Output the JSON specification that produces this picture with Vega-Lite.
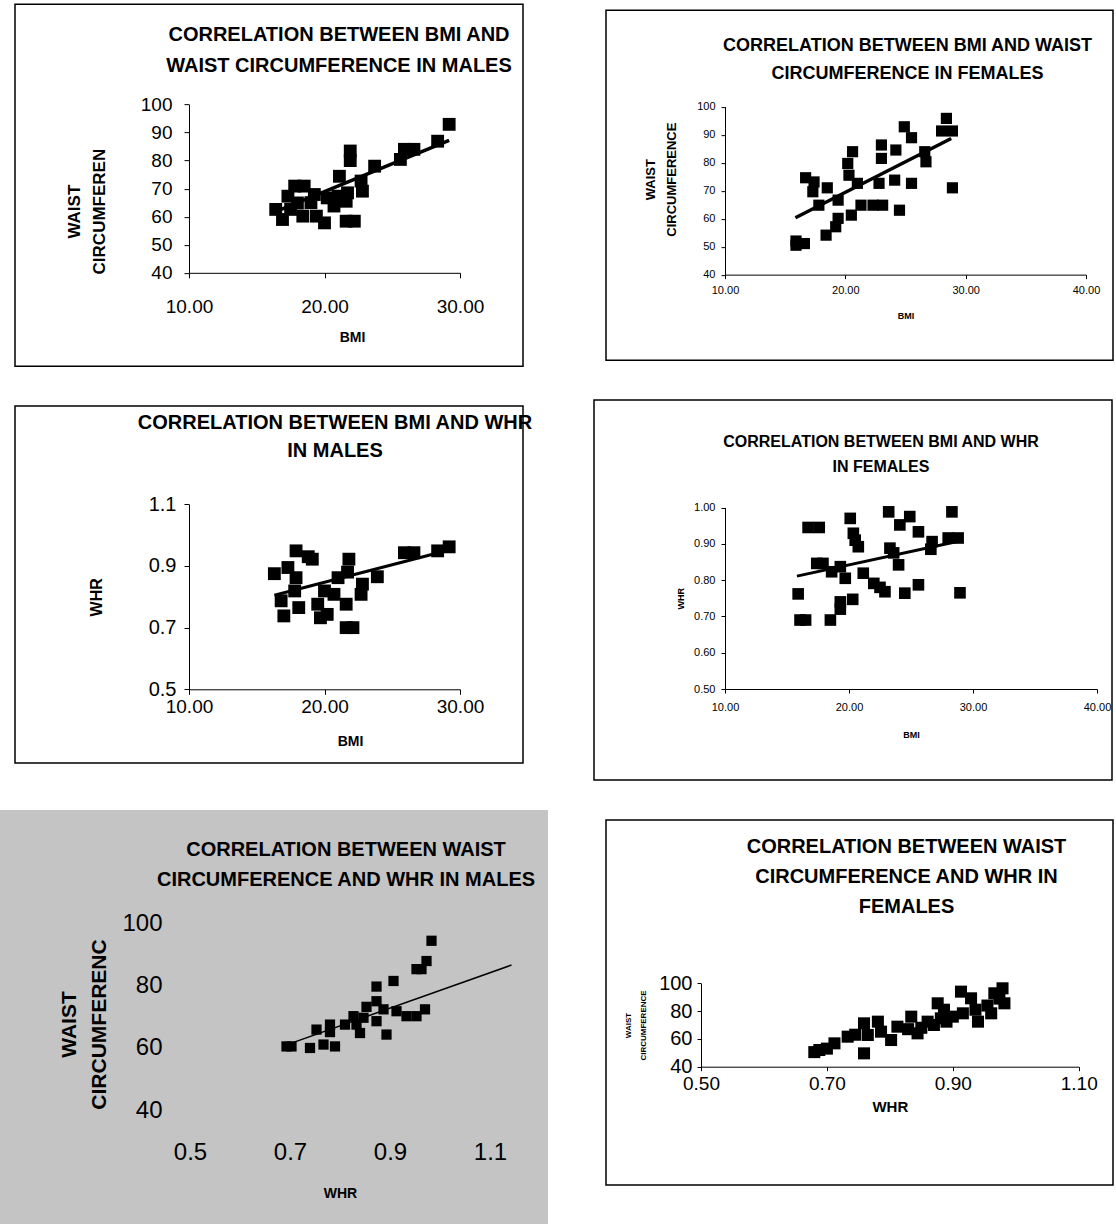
{
  "$schema": "https://vega.github.io/schema/vega-lite/v6.json",
  "background": "white",
  "padding": {"left": 0, "top": 3, "right": 0, "bottom": 0},
  "config": {
    "view": {"stroke": null},
    "font": "Liberation Sans",
    "axis": {"grid": false, "domainColor": "black", "tickColor": "black", "labelColor": "black", "titleColor": "black", "labelFont": "Liberation Sans", "titleFont": "Liberation Sans", "labelFlush": false, "labelOverlap": false, "titleFontWeight": "bold"},
    "title": {"font": "Liberation Sans", "fontWeight": "bold", "color": "black", "anchor": "middle"}
  },
  "datasets": {
    "p1": [
      {"bmi": 29.2, "waist": 92.9}, {"bmi": 28.35, "waist": 86.9}, {"bmi": 25.9, "waist": 84.0}, {"bmi": 26.6, "waist": 84.0},
      {"bmi": 25.6, "waist": 80.4}, {"bmi": 21.9, "waist": 83.4}, {"bmi": 21.9, "waist": 80.0}, {"bmi": 23.7, "waist": 78.0},
      {"bmi": 21.1, "waist": 74.4}, {"bmi": 22.7, "waist": 72.7}, {"bmi": 22.8, "waist": 69.1}, {"bmi": 21.7, "waist": 68.5},
      {"bmi": 21.0, "waist": 67.3}, {"bmi": 20.7, "waist": 63.8}, {"bmi": 20.2, "waist": 66.7}, {"bmi": 21.6, "waist": 58.4},
      {"bmi": 22.2, "waist": 58.4}, {"bmi": 20.0, "waist": 57.8}, {"bmi": 16.9, "waist": 59.0}, {"bmi": 16.4, "waist": 62.6},
      {"bmi": 17.5, "waist": 62.6}, {"bmi": 18.4, "waist": 60.2}, {"bmi": 19.4, "waist": 60.2}, {"bmi": 17.8, "waist": 70.9},
      {"bmi": 18.5, "waist": 70.9}, {"bmi": 17.3, "waist": 67.3}, {"bmi": 19.25, "waist": 67.9}, {"bmi": 18.0, "waist": 64.9},
      {"bmi": 21.6, "waist": 65.5}, {"bmi": 19.0, "waist": 65.0}
    ],
    "p1line": [{"bmi": 16.4, "waist": 61.8}, {"bmi": 29.2, "waist": 87.2}],
    "p2": [
      {"bmi": 28.4, "waist": 95.8}, {"bmi": 28.0, "waist": 91.3}, {"bmi": 28.9, "waist": 91.3}, {"bmi": 28.9, "waist": 71.0},
      {"bmi": 24.9, "waist": 92.8}, {"bmi": 25.5, "waist": 88.9}, {"bmi": 23.0, "waist": 86.3}, {"bmi": 24.2, "waist": 84.5},
      {"bmi": 23.0, "waist": 81.5}, {"bmi": 26.6, "waist": 83.9}, {"bmi": 26.7, "waist": 80.3}, {"bmi": 25.5, "waist": 72.6},
      {"bmi": 24.5, "waist": 63.0}, {"bmi": 24.1, "waist": 73.75}, {"bmi": 22.8, "waist": 72.6}, {"bmi": 23.1, "waist": 64.8},
      {"bmi": 22.3, "waist": 64.8}, {"bmi": 21.3, "waist": 64.8}, {"bmi": 20.6, "waist": 83.9}, {"bmi": 20.2, "waist": 79.7},
      {"bmi": 20.3, "waist": 75.5}, {"bmi": 21.0, "waist": 72.6}, {"bmi": 20.5, "waist": 61.25}, {"bmi": 19.4, "waist": 60.1},
      {"bmi": 19.2, "waist": 57.1}, {"bmi": 18.4, "waist": 54.1}, {"bmi": 18.5, "waist": 71.0}, {"bmi": 19.4, "waist": 66.6},
      {"bmi": 17.8, "waist": 64.8}, {"bmi": 17.3, "waist": 69.6}, {"bmi": 16.7, "waist": 74.6}, {"bmi": 17.4, "waist": 73.1},
      {"bmi": 15.9, "waist": 50.5}, {"bmi": 16.6, "waist": 51.1}, {"bmi": 15.9, "waist": 52.0}
    ],
    "p2line": [{"bmi": 15.85, "waist": 60.3}, {"bmi": 28.8, "waist": 88.6}],
    "p3": [
      {"bmi": 29.2, "whr": 0.962}, {"bmi": 28.35, "whr": 0.949}, {"bmi": 26.6, "whr": 0.943}, {"bmi": 25.9, "whr": 0.943},
      {"bmi": 23.9, "whr": 0.865}, {"bmi": 22.8, "whr": 0.841}, {"bmi": 22.7, "whr": 0.808}, {"bmi": 21.8, "whr": 0.922},
      {"bmi": 21.7, "whr": 0.88}, {"bmi": 21.0, "whr": 0.862}, {"bmi": 21.6, "whr": 0.776}, {"bmi": 21.6, "whr": 0.70},
      {"bmi": 22.1, "whr": 0.70}, {"bmi": 20.2, "whr": 0.743}, {"bmi": 19.7, "whr": 0.732}, {"bmi": 19.5, "whr": 0.776},
      {"bmi": 20.7, "whr": 0.808}, {"bmi": 17.9, "whr": 0.949}, {"bmi": 19.1, "whr": 0.922}, {"bmi": 18.8, "whr": 0.93},
      {"bmi": 16.3, "whr": 0.875}, {"bmi": 17.3, "whr": 0.895}, {"bmi": 17.9, "whr": 0.862}, {"bmi": 16.8, "whr": 0.787},
      {"bmi": 17.0, "whr": 0.738}, {"bmi": 18.1, "whr": 0.765}, {"bmi": 17.8, "whr": 0.819}, {"bmi": 20.0, "whr": 0.819}
    ],
    "p3line": [{"bmi": 16.3, "whr": 0.805}, {"bmi": 29.2, "whr": 0.952}],
    "p4": [
      {"bmi": 16.7, "whr": 0.945}, {"bmi": 17.6, "whr": 0.945}, {"bmi": 15.9, "whr": 0.762}, {"bmi": 16.05, "whr": 0.69},
      {"bmi": 16.5, "whr": 0.69}, {"bmi": 18.5, "whr": 0.69}, {"bmi": 19.3, "whr": 0.74}, {"bmi": 19.3, "whr": 0.72},
      {"bmi": 20.3, "whr": 0.747}, {"bmi": 19.7, "whr": 0.805}, {"bmi": 18.6, "whr": 0.823}, {"bmi": 19.3, "whr": 0.837},
      {"bmi": 17.4, "whr": 0.846}, {"bmi": 17.9, "whr": 0.846}, {"bmi": 20.1, "whr": 0.97}, {"bmi": 20.35, "whr": 0.929},
      {"bmi": 20.5, "whr": 0.91}, {"bmi": 20.75, "whr": 0.892}, {"bmi": 21.15, "whr": 0.819}, {"bmi": 22.0, "whr": 0.791},
      {"bmi": 22.9, "whr": 0.768}, {"bmi": 23.2, "whr": 0.988}, {"bmi": 23.3, "whr": 0.888}, {"bmi": 23.6, "whr": 0.875},
      {"bmi": 24.1, "whr": 0.952}, {"bmi": 24.9, "whr": 0.975}, {"bmi": 24.0, "whr": 0.842}, {"bmi": 24.5, "whr": 0.764},
      {"bmi": 25.6, "whr": 0.787}, {"bmi": 25.6, "whr": 0.933}, {"bmi": 26.7, "whr": 0.906}, {"bmi": 26.6, "whr": 0.885},
      {"bmi": 28.3, "whr": 0.988}, {"bmi": 28.0, "whr": 0.916}, {"bmi": 28.8, "whr": 0.916}, {"bmi": 28.95, "whr": 0.765},
      {"bmi": 22.5, "whr": 0.78}
    ],
    "p4line": [{"bmi": 15.8, "whr": 0.811}, {"bmi": 29.2, "whr": 0.91}],
    "p5": [
      {"whr": 0.983, "waist": 94.3}, {"whr": 0.973, "waist": 87.8}, {"whr": 0.953, "waist": 85.2}, {"whr": 0.963, "waist": 85.2},
      {"whr": 0.907, "waist": 81.4}, {"whr": 0.873, "waist": 79.6}, {"whr": 0.873, "waist": 74.9}, {"whr": 0.853, "waist": 73.1},
      {"whr": 0.887, "waist": 72.3}, {"whr": 0.97, "waist": 72.3}, {"whr": 0.913, "waist": 71.7}, {"whr": 0.933, "waist": 70.1},
      {"whr": 0.953, "waist": 70.1}, {"whr": 0.827, "waist": 70.1}, {"whr": 0.847, "waist": 69.6}, {"whr": 0.873, "waist": 68.5},
      {"whr": 0.81, "waist": 67.4}, {"whr": 0.833, "waist": 67.4}, {"whr": 0.84, "waist": 64.7}, {"whr": 0.893, "waist": 64.2},
      {"whr": 0.78, "waist": 67.4}, {"whr": 0.753, "waist": 65.8}, {"whr": 0.78, "waist": 65.0}, {"whr": 0.703, "waist": 60.4},
      {"whr": 0.693, "waist": 60.4}, {"whr": 0.74, "waist": 59.9}, {"whr": 0.767, "waist": 61.0}, {"whr": 0.79, "waist": 60.4}
    ],
    "p5line": [{"whr": 0.693, "waist": 60.9}, {"whr": 1.143, "waist": 86.5}],
    "p6": [
      {"whr": 0.688, "waist": 52.0}, {"whr": 0.68, "waist": 50.5}, {"whr": 0.70, "waist": 53.0}, {"whr": 0.712, "waist": 56.8},
      {"whr": 0.733, "waist": 61.6}, {"whr": 0.759, "waist": 49.6}, {"whr": 0.759, "waist": 71.2}, {"whr": 0.781, "waist": 72.4},
      {"whr": 0.786, "waist": 65.2}, {"whr": 0.765, "waist": 62.8}, {"whr": 0.745, "waist": 63.0}, {"whr": 0.802, "waist": 59.2},
      {"whr": 0.812, "waist": 68.8}, {"whr": 0.834, "waist": 76.0}, {"whr": 0.844, "waist": 64.0}, {"whr": 0.829, "waist": 67.0},
      {"whr": 0.86, "waist": 72.4}, {"whr": 0.876, "waist": 85.6}, {"whr": 0.881, "waist": 74.8}, {"whr": 0.89, "waist": 72.4},
      {"whr": 0.886, "waist": 81.0}, {"whr": 0.913, "waist": 94.0}, {"whr": 0.929, "waist": 89.2}, {"whr": 0.916, "waist": 78.4},
      {"whr": 0.94, "waist": 72.4}, {"whr": 0.936, "waist": 81.0}, {"whr": 0.961, "waist": 78.4}, {"whr": 0.966, "waist": 92.8},
      {"whr": 0.979, "waist": 96.4}, {"whr": 0.982, "waist": 85.6}, {"whr": 0.974, "waist": 89.0}, {"whr": 0.90, "waist": 76.0},
      {"whr": 0.87, "waist": 70.0}, {"whr": 0.85, "waist": 68.0}, {"whr": 0.955, "waist": 84.0}
    ]
  },
  "vconcat": [
    {
      "hconcat": [
        {"width": 1, "height": 1, "data": {"values": [{}]}, "mark": {"type": "point", "opacity": 0, "size": 0, "strokeWidth": 0}, "encoding": {}},
        {
          "hconcat": [
            {
              "width": 508, "height": 362,
              "view": {"stroke": "black", "strokeWidth": 1.5},
              "title": {"text": ["CORRELATION BETWEEN BMI AND", "WAIST CIRCUMFERENCE IN MALES"], "fontSize": 20, "lineHeight": 31, "offset": -72, "dx": 70},
              "layer": [
                {
                  "data": {"name": "p1"},
                  "mark": {"type": "square", "filled": true, "color": "black", "opacity": 1, "size": 165},
                  "encoding": {
                    "x": {"field": "bmi", "type": "quantitative", "scale": {"domain": [10, 30], "range": [174, 445], "nice": false, "zero": false},
                      "axis": {"values": [10, 20, 30], "format": ".2f", "offset": -93.3, "labelFontSize": 19, "labelPadding": 20, "tickSize": 5, "title": "BMI", "titleFontSize": 14, "titlePadding": 14, "titleX": 337}},
                    "y": {"field": "waist", "type": "quantitative", "scale": {"domain": [40, 100], "range": [268.7, 100.3], "nice": false, "zero": false},
                      "axis": {"values": [40, 50, 60, 70, 80, 90, 100], "offset": -174, "labelFontSize": 19, "labelPadding": 12, "tickSize": 5, "title": ["WAIST", "CIRCUMFEREN"], "titleFontSize": 17, "titleLineHeight": 25, "titlePadding": 32, "titleY": 207}}
                  }
                },
                {
                  "data": {"name": "p1line"},
                  "mark": {"type": "line", "color": "black", "strokeWidth": 3.5},
                  "encoding": {"x": {"field": "bmi", "type": "quantitative"}, "y": {"field": "waist", "type": "quantitative"}}
                }
              ]
            },
            {
              "width": 507, "height": 350,
              "view": {"stroke": "black", "strokeWidth": 1.5},
              "title": {"text": ["CORRELATION BETWEEN BMI AND WAIST", "CIRCUMFERENCE IN FEMALES"], "fontSize": 18, "lineHeight": 28, "offset": -73, "dx": 48},
              "layer": [
                {
                  "data": {"name": "p2"},
                  "mark": {"type": "square", "filled": true, "color": "black", "opacity": 1, "size": 125},
                  "encoding": {
                    "x": {"field": "bmi", "type": "quantitative", "scale": {"domain": [10, 40], "range": [119, 480], "nice": false, "zero": false},
                      "axis": {"values": [10, 20, 30, 40], "format": ".2f", "offset": -85.5, "labelFontSize": 11, "labelPadding": 6, "tickSize": 4, "title": "BMI", "titleFontSize": 9, "titlePadding": 16}},
                    "y": {"field": "waist", "type": "quantitative", "scale": {"domain": [40, 100], "range": [264.5, 96.5], "nice": false, "zero": false},
                      "axis": {"values": [40, 50, 60, 70, 80, 90, 100], "offset": -119, "labelFontSize": 11, "labelPadding": 6, "tickSize": 4, "title": ["WAIST", "CIRCUMFERENCE"], "titleFontSize": 13, "titleLineHeight": 21, "titlePadding": 18, "titleY": 169}}
                  }
                },
                {
                  "data": {"name": "p2line"},
                  "mark": {"type": "line", "color": "black", "strokeWidth": 3.5},
                  "encoding": {"x": {"field": "bmi", "type": "quantitative"}, "y": {"field": "waist", "type": "quantitative"}}
                }
              ]
            }
          ],
          "spacing": 81,
          "center": true
        }
      ],
      "spacing": 13
    },
    {
      "vconcat": [
        {
          "hconcat": [
            {"width": 1, "height": 1, "data": {"values": [{}]}, "mark": {"type": "point", "opacity": 0, "size": 0, "strokeWidth": 0}, "encoding": {}},
            {
              "hconcat": [
                {
                  "vconcat": [
                    {"width": 1, "height": 1, "data": {"values": [{}]}, "mark": {"type": "point", "opacity": 0, "size": 0, "strokeWidth": 0}, "encoding": {}},
                    {
                      "width": 508, "height": 357,
                      "view": {"stroke": "black", "strokeWidth": 1.5},
                      "title": {"text": ["CORRELATION BETWEEN BMI AND WHR", "IN MALES"], "fontSize": 20, "lineHeight": 28, "offset": -55, "dx": 66},
                      "layer": [
                        {
                          "data": {"name": "p3"},
                          "mark": {"type": "square", "filled": true, "color": "black", "opacity": 1, "size": 165},
                          "encoding": {
                            "x": {"field": "bmi", "type": "quantitative", "scale": {"domain": [10, 30], "range": [174, 445], "nice": false, "zero": false},
                              "axis": {"values": [10, 20, 30], "format": ".2f", "offset": -73.7, "labelFontSize": 19, "labelPadding": 3, "tickSize": 5, "title": "BMI", "titleFontSize": 14, "titlePadding": 18, "titleX": 335}},
                            "y": {"field": "whr", "type": "quantitative", "scale": {"domain": [0.5, 1.1], "range": [283.3, 98.3], "nice": false, "zero": false},
                              "axis": {"values": [0.5, 0.7, 0.9, 1.1], "format": ".1f", "offset": -174, "labelFontSize": 20, "labelPadding": 8, "tickSize": 5, "title": "WHR", "titleFontSize": 16, "titlePadding": 44}}
                          }
                        },
                        {
                          "data": {"name": "p3line"},
                          "mark": {"type": "line", "color": "black", "strokeWidth": 3},
                          "encoding": {"x": {"field": "bmi", "type": "quantitative"}, "y": {"field": "whr", "type": "quantitative"}}
                        }
                      ]
                    }
                  ],
                  "spacing": 4
                },
                {
                  "width": 518, "height": 380,
                  "view": {"stroke": "black", "strokeWidth": 1.5},
                  "title": {"text": ["CORRELATION BETWEEN BMI AND WHR", "IN FEMALES"], "fontSize": 16, "lineHeight": 25, "offset": -75, "dx": 28},
                  "layer": [
                    {
                      "data": {"name": "p4"},
                      "mark": {"type": "square", "filled": true, "color": "black", "opacity": 1, "size": 135},
                      "encoding": {
                        "x": {"field": "bmi", "type": "quantitative", "scale": {"domain": [10, 40], "range": [131, 503], "nice": false, "zero": false},
                          "axis": {"values": [10, 20, 30, 40], "format": ".2f", "offset": -91, "labelFontSize": 11, "labelPadding": 8, "tickSize": 4, "title": "BMI", "titleFontSize": 9, "titlePadding": 18}},
                        "y": {"field": "whr", "type": "quantitative", "scale": {"domain": [0.5, 1.0], "range": [289, 107.5], "nice": false, "zero": false},
                          "axis": {"values": [0.5, 0.6, 0.7, 0.8, 0.9, 1.0], "format": ".2f", "offset": -131, "labelFontSize": 11, "labelPadding": 6, "tickSize": 4, "title": "WHR", "titleFontSize": 9, "titlePadding": 8}}
                      }
                    },
                    {
                      "data": {"name": "p4line"},
                      "mark": {"type": "line", "color": "black", "strokeWidth": 3},
                      "encoding": {"x": {"field": "bmi", "type": "quantitative"}, "y": {"field": "whr", "type": "quantitative"}}
                    }
                  ]
                }
              ],
              "spacing": 59
            }
          ],
          "spacing": 13
        },
        {
          "hconcat": [
            {
              "width": 548, "height": 414,
              "view": {"stroke": null, "fill": "#c4c4c4"},
              "title": {"text": ["CORRELATION BETWEEN WAIST", "CIRCUMFERENCE AND WHR IN MALES"], "fontSize": 20, "lineHeight": 30, "offset": -80, "dx": 72},
              "layer": [
                {
                  "data": {"name": "p5"},
                  "mark": {"type": "square", "filled": true, "color": "black", "opacity": 1, "size": 105},
                  "encoding": {
                    "x": {"field": "whr", "type": "quantitative", "scale": {"domain": [0.5, 1.1], "range": [190, 490], "nice": false, "zero": false},
                      "axis": {"values": [0.5, 0.7, 0.9, 1.1], "format": ".1f", "offset": -114, "domain": false, "ticks": false, "labelFontSize": 24, "labelPadding": 30, "title": "WHR", "titleFontSize": 14, "titlePadding": 22}},
                    "y": {"field": "waist", "type": "quantitative", "scale": {"domain": [40, 100], "range": [300, 113], "nice": false, "zero": false},
                      "axis": {"values": [40, 60, 80, 100], "offset": -190, "domain": false, "ticks": false, "labelFontSize": 24, "labelPadding": 28, "title": ["WAIST", "CIRCUMFERENC"], "titleFontSize": 21, "titleLineHeight": 30, "titlePadding": 12, "titleY": 214}}
                  }
                },
                {
                  "data": {"name": "p5line"},
                  "mark": {"type": "line", "color": "black", "strokeWidth": 1.5},
                  "encoding": {"x": {"field": "whr", "type": "quantitative"}, "y": {"field": "waist", "type": "quantitative"}}
                }
              ]
            },
            {
              "vconcat": [
                {"width": 1, "height": 1, "data": {"values": [{}]}, "mark": {"type": "point", "opacity": 0, "size": 0, "strokeWidth": 0}, "encoding": {}},
                {
                  "width": 507, "height": 365,
                  "view": {"stroke": "black", "strokeWidth": 1.5},
                  "title": {"text": ["CORRELATION BETWEEN WAIST", "CIRCUMFERENCE AND WHR IN", "FEMALES"], "fontSize": 20, "lineHeight": 30, "offset": -97, "dx": 47},
                  "layer": [
                    {
                      "data": {"name": "p6"},
                      "mark": {"type": "square", "filled": true, "color": "black", "opacity": 1, "size": 145},
                      "encoding": {
                        "x": {"field": "whr", "type": "quantitative", "scale": {"domain": [0.5, 1.1], "range": [95, 472.7], "nice": false, "zero": false},
                          "axis": {"values": [0.5, 0.7, 0.9, 1.1], "format": ".2f", "offset": -118.3, "labelFontSize": 19, "labelPadding": 4, "tickSize": 4, "title": "WHR", "titleFontSize": 15, "titlePadding": 6}},
                        "y": {"field": "waist", "type": "quantitative", "scale": {"domain": [40, 100], "range": [246.7, 163.3], "nice": false, "zero": false},
                          "axis": {"values": [40, 60, 80, 100], "offset": -95, "labelFontSize": 20, "labelPadding": 5, "tickSize": 4, "title": ["WAIST", "CIRCUMFERENCE"], "titleFontSize": 8, "titleLineHeight": 15, "titlePadding": 11}}
                      }
                    }
                  ]
                }
              ],
              "spacing": 8
            }
          ],
          "spacing": 57
        }
      ],
      "spacing": 29
    }
  ],
  "spacing": 32
}
